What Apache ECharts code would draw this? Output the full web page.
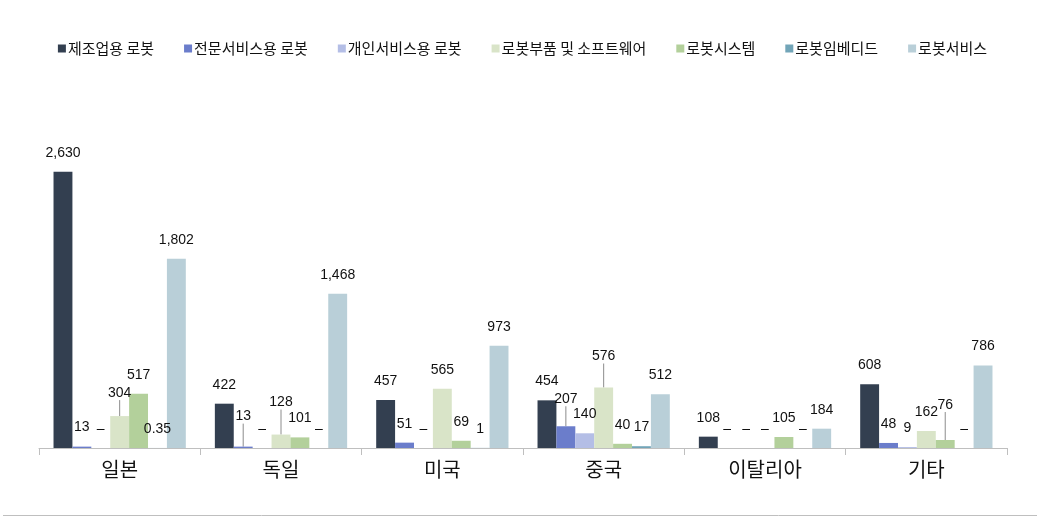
<!DOCTYPE html>
<html>
<head>
<meta charset="utf-8">
<title>로봇 분야별 비교</title>
<script src="https://cdn.jsdelivr.net/npm/echarts@6/dist/echarts.min.js"></script>
<style>
  html, body { margin: 0; padding: 0; background: #fff; }
  #chart { width: 1045px; height: 526px; }
</style>
</head>
<body>
<div id="chart"></div>
<script>
  // 데이터
  const countries = ['일본', '독일', '미국', '중국', '이탈리아', '기타'];
  const seriesNames = ['제조업용 로봇', '전문서비스용 로봇', '개인서비스용 로봇', '로봇부품 및 소프트웨어', '로봇시스템', '로봇임베디드', '로봇서비스'];
  const manufacturing = [2630, 422, 457, 454, 108, 608];
  const professional = [13, 13, 51, 207, 0, 48];
  const personal = [0, 0, 0, 140, 0, 9];
  const parts = [304, 128, 565, 576, 0, 162];
  const systems = [517, 101, 69, 40, 105, 76];
  const embedded = [0.35, 0, 1, 17, 0, 0];
  const services = [1802, 1468, 973, 512, 184, 786];
  const colors = ['#333F50', '#6B7DCB', '#B4BEE6', '#D9E4C8', '#B3D09B', '#72A5B8', '#B9CFD8'];

  // 라벨을 위로 올린 항목 (시리즈 index, 카테고리 index, dy)
  const liftedLabels = [[3, 0, -4], [1, 1, -11], [3, 1, -13], [1, 3, -8], [3, 3, -12], [4, 5, -16]];

  const allValues = [manufacturing, professional, personal, parts, systems, embedded, services];

  const fmt = v => v === 0 ? '–' : (v >= 1000 ? v.toLocaleString('en-US') : String(v));

  const findLift = (si, di) => liftedLabels.find(l => l[0] === si && l[1] === di);

  const chart = echarts.init(document.getElementById('chart'));

  const option = {
    animation: false,
    textStyle: { fontFamily: '"Noto Sans CJK KR", "Liberation Sans", sans-serif' },
    legend: {
      top: 36,
      left: 'center',
      itemWidth: 8,
      itemHeight: 8,
      itemGap: 30,
      icon: 'rect',
      textStyle: { fontSize: 15, color: '#111', fontFamily: '"Noto Sans CJK KR", sans-serif', padding: [0, 0, 0, -3] },
      data: seriesNames
    },
    grid: { left: 39, right: 38, top: 133, bottom: 78 },
    xAxis: {
      type: 'category',
      data: countries,
      axisLine: { lineStyle: { color: '#BFBFBF', width: 1 } },
      axisTick: { show: true, length: 7, lineStyle: { color: '#BFBFBF' } },
      axisLabel: { fontSize: 20, color: '#111', margin: 11, fontFamily: '"Noto Sans CJK KR", sans-serif' }
    },
    yAxis: {
      type: 'value',
      min: 0,
      max: 3000,
      show: false,
      splitLine: { show: false }
    },
    series: seriesNames.map((name, si) => ({
      name: name,
      type: 'bar',
      data: allValues[si].map((v, di) => ({
        value: v,
        labelLine: { show: !!findLift(si, di) }
      })),
      barGap: '0%',
      barCategoryGap: '18%',
      itemStyle: { color: colors[si] },
      label: {
        show: true,
        position: 'top',
        distance: 12,
        fontSize: 14,
        color: '#111',
        fontFamily: '"Liberation Sans", Arial, sans-serif',
        formatter: p => fmt(p.value)
      },
      labelLine: { show: false, lineStyle: { color: '#8C8C8C', width: 1 } },
      labelLayout: params => {
        const hit = findLift(si, params.dataIndex);
        return hit ? { dy: hit[2] } : {};
      }
    })),
    graphic: [
      {
        type: 'line',
        shape: { x1: 3, y1: 515.5, x2: 1037, y2: 515.5 },
        style: { stroke: '#BFBFBF', lineWidth: 1 },
        silent: true
      }
    ]
  };

  chart.setOption(option);
</script>
</body>
</html>
